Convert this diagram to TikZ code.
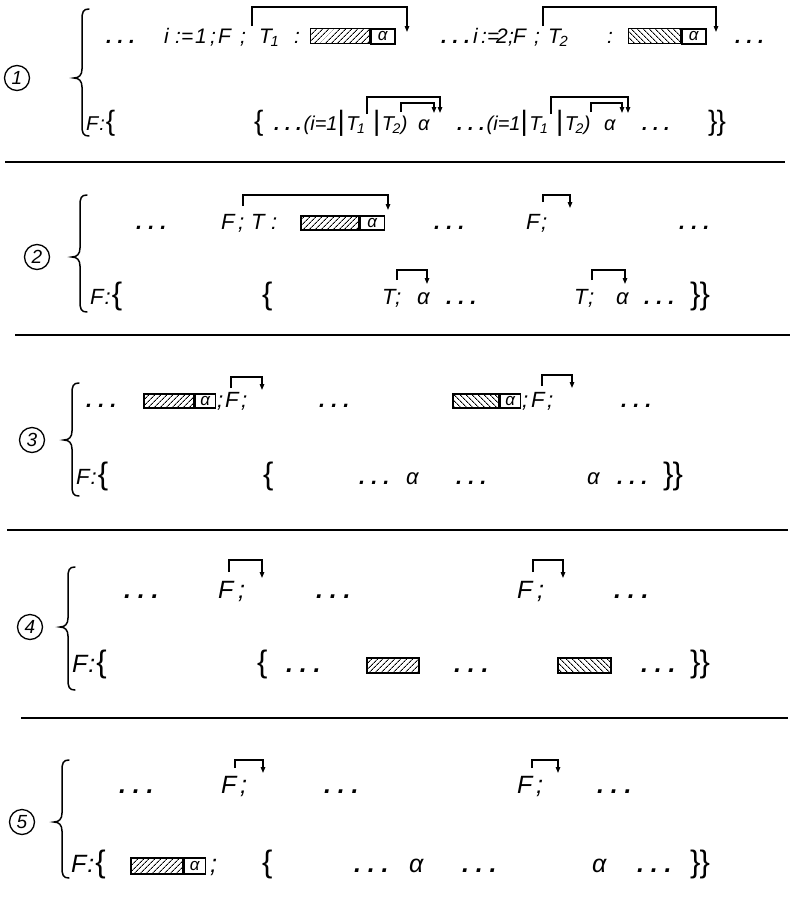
\documentclass[tikz,border=0pt]{standalone}
\usepackage{fontspec}
\setmainfont{Liberation Sans}
\usetikzlibrary{arrows.meta,patterns.meta}
\newcommand\dts{{\bfseries.\kern.27em.\kern.27em.}}
\newcommand\sA{\fontsize{21}{21}\selectfont}
\newcommand\sAb{\fontsize{20}{20}\selectfont}
\newcommand\sB{\fontsize{22}{22}\selectfont}
\newcommand\sC{\fontsize{25}{25}\selectfont}
\newcommand\sBr{\upshape\fontsize{31}{31}\selectfont}
\newcommand\sBrA{\upshape\fontsize{28}{28}\selectfont}
\newcommand\Tsub[1]{T\kern-1.5pt\textsubscript{#1}}
\newcommand\vbr{{\sBrA|}\kern1.5pt}
\tikzset{
  t/.style={inner sep=0pt, anchor=base west, font=\itshape},
  brk/.style={line width=1.3pt, -{Triangle[length=6pt,width=4.5pt]}},
  num/.style={circle, draw, line width=1.3pt, minimum size=25pt, inner sep=0pt,
              font=\itshape\fontsize{19}{19}\selectfont},
  rulel/.style={line width=1.6pt},
  brc/.style={line width=1.5pt, line cap=round},
  hcell/.style={draw, line width=1.5pt, inner sep=0pt, anchor=north west},
  acell/.style={draw, line width=1.5pt, inner sep=0pt, fill=white, anchor=north west,
                font=\itshape\fontsize{17}{17}\selectfont}
}
% token: name, x, baseline y, text
\newcommand\tk[4]{\node[t] (#1) at (#2,#3) {#4};}
% bracket: name, x1, y1(bottom start), ytop, x2, y2(arrow end)
\newcommand\brkt[6]{\coordinate (#1s) at (#2,#3); \coordinate (#1e) at (#5,#6);
  \draw[brk] (#1s) |- (#5,#4) -- (#1e);}
% hatched box with alpha: name, x1, ytop, xa, x2, ybot, angle
\newcommand\hba[7]{%
  \node[hcell, pattern={Lines[angle=#7,distance=4pt,line width=1pt]},
        minimum width={#4-#2}, minimum height={#6-#3}] (#1) at (#2,#3) {};
  \node[acell, minimum width={#5-#4}, minimum height={#6-#3}] (#1a) at (#1.north east) {α};}
% hatched box without alpha
\newcommand\hbn[6]{%
  \node[hcell, pattern={Lines[angle=#6,distance=4pt,line width=1pt]},
        minimum width={#4-#2}, minimum height={#5-#3}] (#1) at (#2,#3) {};}
% big brace: x spine, y top, y tip, y bottom
\newcommand\bigbrace[4]{%
  \draw[brc] (#1+7,#2) .. controls (#1+1,#2) and (#1,#2+3) .. (#1,#2+11)
    -- (#1,#3-9) .. controls (#1,#3-3) and (#1-3,#3) .. (#1-8,#3)
    .. controls (#1-3,#3) and (#1,#3+3) .. (#1,#3+9)
    -- (#1,#4-11) .. controls (#1,#4-3) and (#1+1,#4) .. (#1+7,#4);}
\begin{document}
\begin{tikzpicture}[x=1pt,y=-1pt]
\useasboundingbox (0,0) rectangle (792,914);
% ---------------- rules
\coordinate (r1a) at (5,162); \coordinate (r1b) at (785,162);
\coordinate (r2a) at (15,335); \coordinate (r2b) at (790,335);
\coordinate (r3a) at (7,530); \coordinate (r3b) at (788,530);
\coordinate (r4a) at (21,718); \coordinate (r4b) at (788,718);
\draw[rulel] (r1a) -- (r1b);
\draw[rulel] (r2a) -- (r2b);
\draw[rulel] (r3a) -- (r3b);
\draw[rulel] (r4a) -- (r4b);
% ================= panel 1
\node[num] (c1) at (17,78) {1};
\bigbrace{82}{9}{78}{136}
\tk{p1t1}{106}{43}{\sA\dts}
\tk{p1t2}{164}{43}{\sA i}
\tk{p1t3}{175}{43}{\sA :=}
\tk{p1t4}{195}{43}{\sA 1}
\tk{p1t5}{210}{43}{\sA ;}
\tk{p1t6}{218}{43}{\sA F}
\tk{p1t7}{240}{43}{\sA ;}
\brkt{p1k1}{252}{26}{7}{407}{32}
\tk{p1t8}{259}{43}{\sA\Tsub{1}}
\tk{p1t9}{294}{43}{\sA :}
\hba{p1b1}{310}{28}{369}{393}{43}{45}
\tk{p1t10}{441}{43}{\sA\dts}
\tk{p1t11}{473}{43}{\sA i}
\tk{p1t12}{481}{43}{\sA :=}
\tk{p1t13}{496}{43}{\sA 2}
\tk{p1t14}{508}{43}{\sA ;}
\tk{p1t15}{513}{43}{\sA F}
\tk{p1t16}{534}{43}{\sA ;}
\brkt{p1k2}{543}{26}{7}{716}{32}
\tk{p1t17}{548}{43}{\sA\Tsub{2}}
\tk{p1t18}{607}{43}{\sA :}
\hba{p1b2}{628}{28}{680}{704}{43}{-45}
\tk{p1t19}{735}{43}{\sA\dts}
% bottom row
\tk{p1u1}{86}{130}{\sAb F\kern1pt:\kern1pt{\sBrA\{}}
\tk{p1u4}{254}{130}{\sBrA\{}
\tk{p1u5}{274}{130}{\sAb\dts\kern2pt(i=1\vbr\Tsub{1}}
\brkt{p1k3}{367}{114}{97}{440}{113}
\tk{p1u6}{373}{130}{\sAb\vbr\Tsub{2})}
\brkt{p1k4}{401}{112}{103}{434}{113}
\tk{p1u7}{418}{130}{\sAb α}
\tk{p1u8}{457}{130}{\sAb\dts\kern2pt(i=1\vbr\Tsub{1}}
\brkt{p1k5}{551}{114}{97}{628}{113}
\tk{p1u9}{556}{130}{\sAb\vbr\Tsub{2})}
\brkt{p1k6}{591}{112}{103}{622}{113}
\tk{p1u10}{604}{130}{\sAb α}
\tk{p1u11}{642}{130}{\sAb\dts}
\tk{p1u12}{708}{130}{\sBrA\}\kern-1pt\}}
% ================= panel 2
\node[num] (c2) at (37,257) {2};
\bigbrace{80}{195}{257}{312}
\tk{p2t1}{136}{229}{\sB\dts}
\tk{p2t2}{221}{229}{\sB F}
\tk{p2t3}{238}{229}{\sB ;}
\brkt{p2k1}{243}{206}{195}{388}{210}
\tk{p2t4}{251}{229}{\sB T}
\tk{p2t5}{271}{229}{\sB :}
\hba{p2b1}{300}{215}{358}{382}{229}{45}
\tk{p2t6}{434}{229}{\sB\dts}
\tk{p2t7}{526}{229}{\sB F}
\tk{p2t8}{541}{229}{\sB ;}
\brkt{p2k2}{543}{202}{195}{570}{208}
\tk{p2t9}{679}{229}{\sB\dts}
\tk{p2u1}{90}{304}{\sB F\kern1pt:\kern1pt{\sBr\{}}
\tk{p2u4}{262}{304}{\sBr\{}
\tk{p2u5}{382}{304}{\sB T}
\tk{p2u6}{395}{304}{\sB ;}
\brkt{p2k3}{397}{280}{270}{427}{284}
\tk{p2u7}{417}{304}{\sB α}
\tk{p2u8}{446}{304}{\sB\dts}
\tk{p2u9}{574}{304}{\sB T}
\tk{p2u10}{588}{304}{\sB ;}
\brkt{p2k4}{592}{280}{270}{625}{284}
\tk{p2u11}{616}{304}{\sB α}
\tk{p2u12}{644}{304}{\sB\dts}
\tk{p2u13}{690}{304}{\sBr\}\kern-1pt\}}
% ================= panel 3
\node[num] (c3) at (32,440) {3};
\bigbrace{72}{383}{440}{496}
\tk{p3t1}{86}{407}{\sB\dts}
\hba{p3b1}{143}{393}{193}{213}{407}{45}
\tk{p3t2}{217}{407}{\sB ;}
\tk{p3t3}{225}{407}{\sB F}
\tk{p3t4}{241}{407}{\sB ;}
\brkt{p3k1}{231}{388}{377}{262}{390}
\tk{p3t5}{319}{407}{\sB\dts}
\hba{p3b2}{452}{393}{498}{518}{407}{-45}
\tk{p3t6}{522}{407}{\sB ;}
\tk{p3t7}{531}{407}{\sB F}
\tk{p3t8}{547}{407}{\sB ;}
\brkt{p3k2}{542}{386}{375}{572}{388}
\tk{p3t9}{621}{407}{\sB\dts}
\tk{p3u1}{76}{484}{\sB F\kern1pt:\kern1pt{\sBr\{}}
\tk{p3u4}{263}{484}{\sBr\{}
\tk{p3u5}{359}{484}{\sB\dts}
\tk{p3u6}{406}{484}{\sB α}
\tk{p3u7}{456}{484}{\sB\dts}
\tk{p3u8}{587}{484}{\sB α}
\tk{p3u9}{617}{484}{\sB\dts}
\tk{p3u10}{663}{484}{\sBr\}\kern-1pt\}}
% ================= panel 4
\node[num] (c4) at (30,627) {4};
\bigbrace{68}{567}{627}{690}
\tk{p4t1}{124}{598}{\sC\dts}
\tk{p4t2}{218}{598}{\sC F}
\tk{p4t3}{238}{598}{\sC ;}
\brkt{p4k1}{229}{572}{560}{262}{578}
\tk{p4t4}{316}{598}{\sC\dts}
\tk{p4t5}{517}{598}{\sC F}
\tk{p4t6}{537}{598}{\sC ;}
\brkt{p4k2}{533}{572}{560}{563}{578}
\tk{p4t7}{614}{598}{\sC\dts}
\tk{p4u1}{72}{672}{\sC F\kern1pt:\kern1pt{\sBr\{}}
\tk{p4u4}{257}{672}{\sBr\{}
\tk{p4u5}{286}{672}{\sC\dts}
\hbn{p4b1}{366}{657}{418}{672}{45}
\tk{p4u6}{454}{672}{\sC\dts}
\hbn{p4b2}{557}{657}{610}{672}{-45}
\tk{p4u7}{641}{672}{\sC\dts}
\tk{p4u8}{690}{672}{\sBr\}\kern-1pt\}}
% ================= panel 5
\node[num] (c5) at (22,822) {5};
\bigbrace{62}{760}{822}{878}
\tk{p5t1}{119}{793}{\sC\dts}
\tk{p5t2}{221}{793}{\sC F}
\tk{p5t3}{240}{793}{\sC ;}
\brkt{p5k1}{235}{768}{760}{263}{773}
\tk{p5t4}{324}{793}{\sC\dts}
\tk{p5t5}{517}{793}{\sC F}
\tk{p5t6}{536}{793}{\sC ;}
\brkt{p5k2}{532}{768}{760}{558}{773}
\tk{p5t7}{597}{793}{\sC\dts}
\tk{p5u1}{71}{872}{\sC F\kern1pt:\kern1pt{\sBr\{}}
\hba{p5b1}{130}{857}{182}{203}{873}{45}
\tk{p5u4}{210}{872}{\sC ;}
\tk{p5u5}{262}{872}{\sBr\{}
\tk{p5u6}{354}{872}{\sC\dts}
\tk{p5u7}{409}{872}{\sC α}
\tk{p5u8}{462}{872}{\sC\dts}
\tk{p5u9}{592}{872}{\sC α}
\tk{p5u10}{637}{872}{\sC\dts}
\tk{p5u11}{690}{872}{\sBr\}\kern-1pt\}}
\end{tikzpicture}
\end{document}
